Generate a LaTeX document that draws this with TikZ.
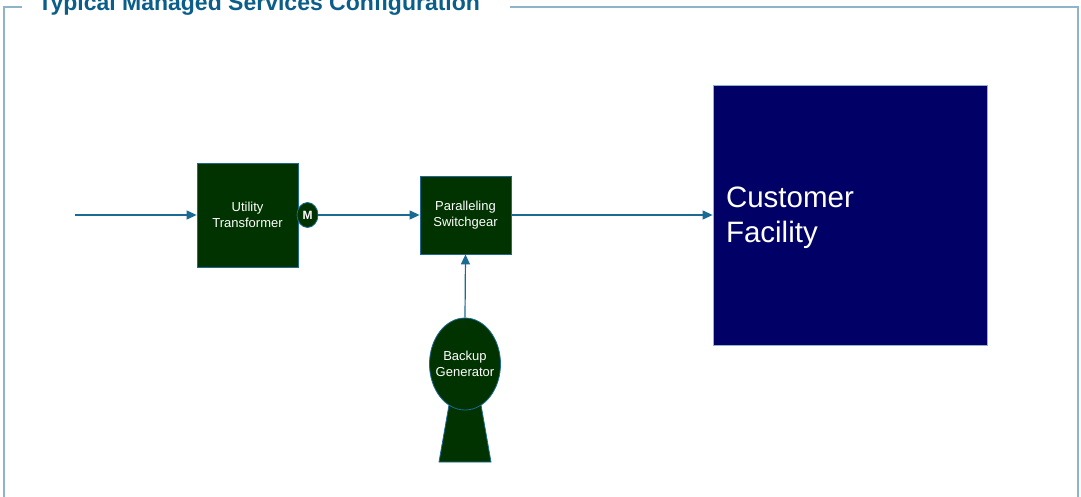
\documentclass[tikz,border=0pt]{standalone}
\usepackage{fontspec}
\setmainfont{Liberation Sans}
\usetikzlibrary{arrows.meta,shapes.geometric}
\definecolor{gfill}{HTML}{003300}
\definecolor{nfill}{HTML}{000066}
\definecolor{lcol}{HTML}{1A6A94}
\definecolor{fcol}{HTML}{8FB3C8}
\definecolor{tcol}{HTML}{0B5E8A}
\tikzset{
  conn/.style={draw=lcol, line width=1.2pt, -{Triangle[length=10pt,width=9pt]}},
  gbox/.style={rectangle, fill=gfill, draw=lcol, line width=0.8pt, text=white, align=center,
    font=\fontsize{13}{16}\selectfont, inner sep=0pt},
  framel/.style={draw=fcol, line width=1.2pt}
}
\begin{document}
\begin{tikzpicture}[x=1pt,y=-1pt]
\useasboundingbox (0,0) rectangle (1081,497);
% frame
\draw[framel] (22,7) -- (4,7) -- (4,500);
\draw[framel] (510,7) -- (1078,7) -- (1078,500);
\node[anchor=base west, inner sep=0pt, text=tcol, font=\fontsize{23}{27}\selectfont\bfseries] (title) at (38,10.5) {Typical Managed Services Configuration};
% nodes
\coordinate (in) at (75,215);
\node[gbox, minimum width=101pt, minimum height=104pt] (ut) at (247.5,215) {Utility\\Transformer};
\node[ellipse, fill=gfill, draw=lcol, line width=0.8pt, text=white, minimum width=21pt, minimum height=25pt, inner sep=0pt, font=\fontsize{12}{14}\selectfont\bfseries] (m) at (307.5,215) {M};
\node[gbox, minimum width=91pt, minimum height=78pt] (ps) at (465.5,215) {Paralleling\\Switchgear};
\node[rectangle, fill=nfill, draw=fcol, line width=0.8pt, text=white, minimum width=274pt, minimum height=260pt,
  text width=248pt, align=left, inner xsep=13pt, text height=27pt, font=\fontsize{29.5}{35}\selectfont] (cf) at (850,215) {Customer\\Facility};
% generator
\fill[gfill, draw=lcol, line width=0.8pt] (449,405) -- (481,405) -- (491,462) -- (439,462) -- cycle;
\node[ellipse, fill=gfill, draw=lcol, line width=0.8pt, text=white, minimum width=71pt, minimum height=92pt, inner xsep=-6pt, inner ysep=0pt, align=center, font=\fontsize{13}{16}\selectfont] (gen) at (465,364) {Backup\\Generator};
% connectors
\draw[conn] (in) -- (ut.west);
\draw[conn] (m.east) -- (ps.west |- m.east);
\draw[conn] (ps.east) -- (ps.east -| cf.west);
\draw[conn] (gen.north) -- (ps.south);
\end{tikzpicture}
\end{document}
